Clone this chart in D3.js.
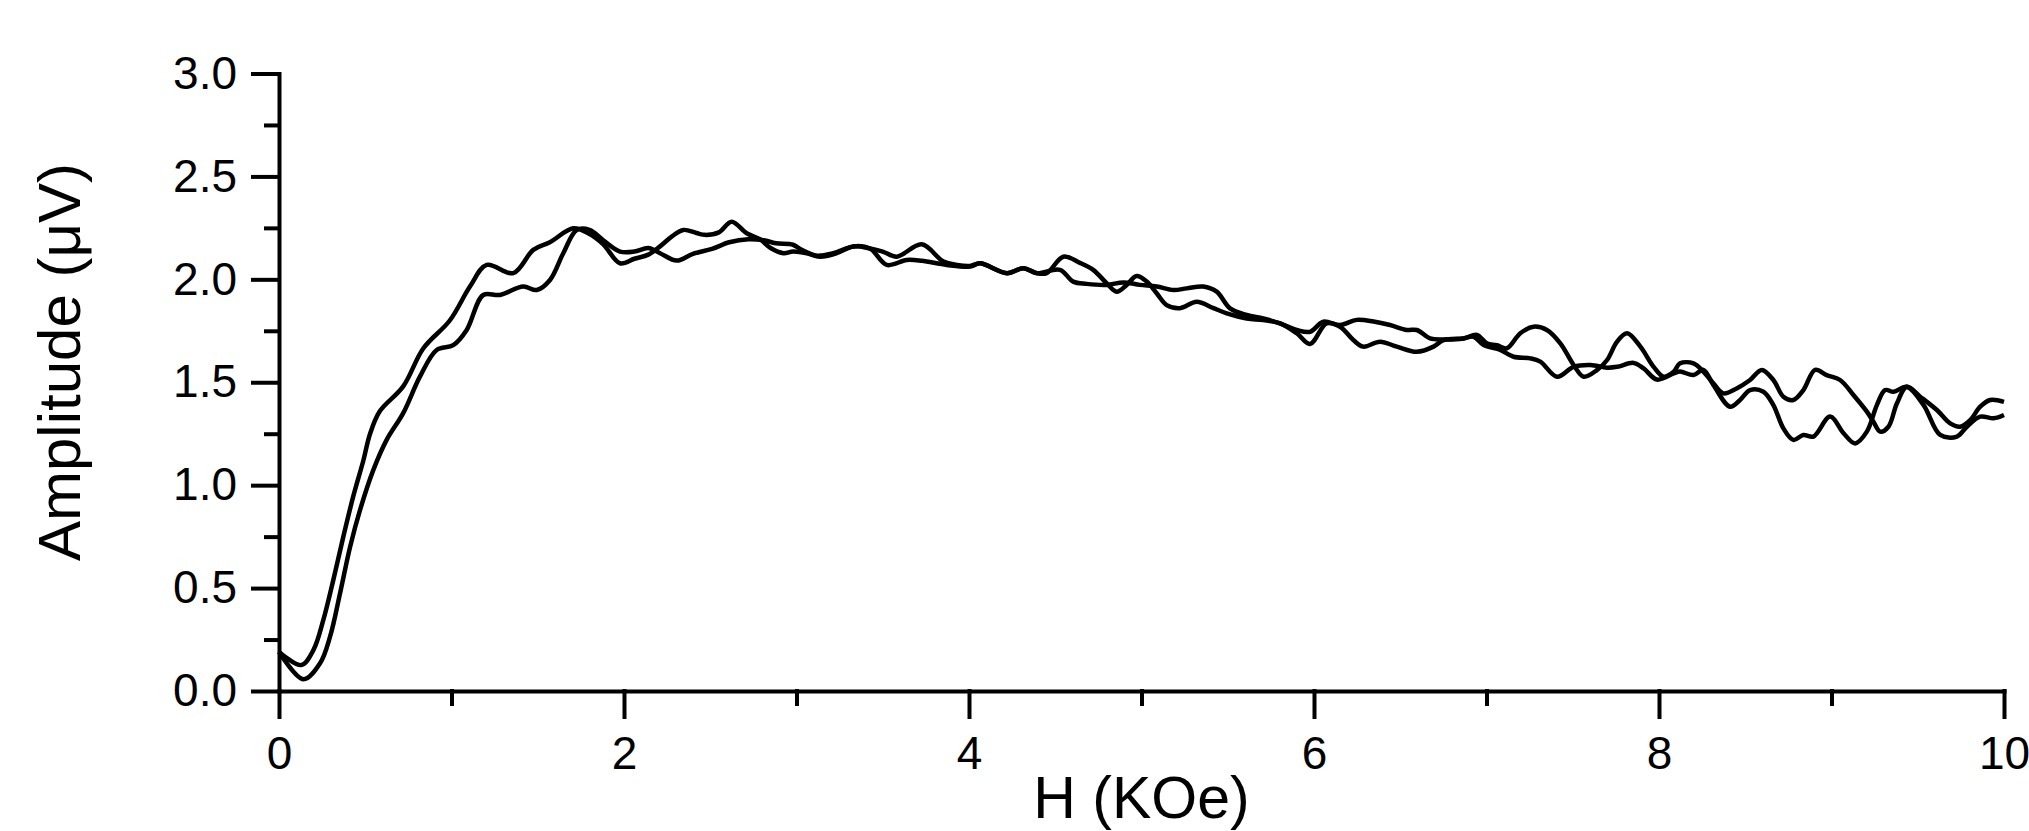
<!DOCTYPE html>
<html>
<head>
<meta charset="utf-8">
<script src="https://cdn.jsdelivr.net/npm/d3@7"></script>
<style>
  html, body { margin: 0; padding: 0; background: #fff; }
  svg { display: block; }
  text { font-family: "Liberation Sans", Arial, sans-serif; fill: #000; }
</style>
</head>
<body>
<svg id="chart" width="2029" height="831"></svg>
<script>
// Field sweep, first trace: H (kOe) and amplitude (µV)
const sweepA_H = [0, 0.13, 0.2, 0.257, 0.315, 0.373, 0.43, 0.489, 0.528, 0.585, 0.72, 0.837, 0.99, 1.107, 1.204, 1.358, 1.474, 1.57, 1.706, 1.80, 1.88,
  1.977, 2.06, 2.141, 2.209, 2.28, 2.344, 2.42, 2.469, 2.55, 2.624, 2.711, 2.788, 2.85, 2.924, 2.981, 3.059, 3.136, 3.233, 3.33, 3.426, 3.523, 3.639, 3.726, 3.871, 4.006,
  4.064, 4.22, 4.315, 4.393, 4.45, 4.547, 4.643, 4.72, 4.798, 4.856, 4.914, 4.972, 5.03, 5.088, 5.146, 5.223, 5.32, 5.417, 5.494, 5.61, 5.706, 5.803, 5.9, 5.977, 6.073,
  6.151, 6.228, 6.286, 6.383, 6.48, 6.596, 6.693, 6.751, 6.867, 6.925, 6.983, 7.08, 7.157, 7.254, 7.312, 7.409, 7.505, 7.602, 7.699, 7.757, 7.853, 7.911, 7.988, 8.085,
  8.122, 8.2, 8.257, 8.315, 8.412, 8.47, 8.528, 8.605, 8.663, 8.721, 8.779, 8.837, 8.895, 8.992, 9.07, 9.137, 9.205, 9.263, 9.311, 9.36, 9.437, 9.534, 9.63, 9.727, 9.785, 9.862, 9.94, 10.0];
const sweepA_V = [0.19, 0.126, 0.2, 0.345, 0.54, 0.75, 0.944, 1.12, 1.25, 1.36, 1.48, 1.665, 1.80, 1.965, 2.07, 2.03, 2.143, 2.18, 2.248, 2.22, 2.17,
  2.078, 2.10, 2.12, 2.16, 2.21, 2.24, 2.225, 2.216, 2.228, 2.28, 2.224, 2.195, 2.152, 2.127, 2.135, 2.127, 2.11, 2.127, 2.16, 2.15, 2.07, 2.094, 2.09, 2.07, 2.062,
  2.078, 2.03, 2.054, 2.03, 2.03, 2.11, 2.08, 2.046, 1.981, 1.94, 1.973, 2.016, 1.989, 1.932, 1.875, 1.86, 1.891, 1.86, 1.835, 1.81, 1.802, 1.786, 1.738, 1.686, 1.786,
  1.77, 1.705, 1.673, 1.697, 1.673, 1.648, 1.673, 1.705, 1.713, 1.721, 1.681, 1.657, 1.624, 1.616, 1.6, 1.527, 1.575, 1.584, 1.571, 1.575, 1.594, 1.567, 1.513, 1.543,
  1.552, 1.535, 1.56, 1.487, 1.381, 1.414, 1.462, 1.454, 1.389, 1.276, 1.22, 1.244, 1.236, 1.333, 1.252, 1.203, 1.26, 1.389, 1.462, 1.454, 1.478, 1.389, 1.244, 1.236, 1.284, 1.333, 1.325, 1.341];

// Field sweep, second trace
const sweepB_H = [0, 0.141, 0.238, 0.296, 0.354, 0.412, 0.47, 0.547, 0.624, 0.72, 0.817, 0.914, 1.01, 1.088, 1.184, 1.28, 1.416, 1.494, 1.571, 1.648, 1.726, 1.80, 1.88,
  1.977, 2.06, 2.141, 2.209, 2.305, 2.40, 2.51, 2.61, 2.72, 2.81, 2.88, 2.98, 3.03, 3.118, 3.214, 3.33, 3.426, 3.50, 3.581, 3.726, 3.852, 3.93, 4.006,
  4.064, 4.22, 4.315, 4.393, 4.527, 4.604, 4.682, 4.798, 4.895, 4.991, 5.088, 5.185, 5.262, 5.358, 5.436, 5.513, 5.61, 5.706, 5.803, 5.9, 5.977, 6.054,
  6.151, 6.248, 6.345, 6.441, 6.538, 6.596, 6.673, 6.751, 6.867, 6.944, 7.002, 7.06, 7.118, 7.196, 7.273, 7.35, 7.428, 7.505, 7.563, 7.64, 7.699, 7.757, 7.815, 7.892, 7.969, 8.027, 8.085,
  8.122, 8.2, 8.257, 8.315, 8.373, 8.45, 8.528, 8.596, 8.663, 8.721, 8.779, 8.837, 8.905, 8.972, 9.05, 9.127, 9.205, 9.243, 9.282, 9.33, 9.379, 9.437, 9.514, 9.611, 9.688, 9.746, 9.804, 9.862, 9.92, 10.0];
const sweepB_V = [0.19, 0.057, 0.135, 0.264, 0.475, 0.70, 0.88, 1.074, 1.22, 1.35, 1.527, 1.657, 1.68, 1.754, 1.924, 1.924, 1.965, 1.948, 1.997, 2.127, 2.24, 2.24, 2.19,
  2.135, 2.135, 2.152, 2.127, 2.091, 2.124, 2.148, 2.18, 2.195, 2.19, 2.175, 2.168, 2.143, 2.115, 2.127, 2.16, 2.15, 2.135, 2.11, 2.17, 2.086, 2.07, 2.065,
  2.078, 2.03, 2.054, 2.03, 2.046, 1.989, 1.978, 1.973, 1.985, 1.973, 1.965, 1.948, 1.956, 1.965, 1.94, 1.859, 1.827, 1.81, 1.786, 1.754, 1.745, 1.794,
  1.778, 1.803, 1.795, 1.778, 1.754, 1.754, 1.713, 1.708, 1.713, 1.73, 1.689, 1.68, 1.665, 1.738, 1.77, 1.754, 1.689, 1.584, 1.527, 1.559, 1.608, 1.697, 1.738, 1.673, 1.575, 1.527, 1.551,
  1.592, 1.592, 1.552, 1.495, 1.446, 1.47, 1.511, 1.56, 1.511, 1.43, 1.414, 1.462, 1.56, 1.535, 1.511, 1.438, 1.357, 1.308, 1.26, 1.284, 1.397, 1.478, 1.43, 1.365, 1.3, 1.284, 1.316, 1.381, 1.414, 1.405];

// Axis ticks
const xMajor = [0, 2, 4, 6, 8, 10];
const xMinor = [1, 3, 5, 7, 9];
const yMajor = [0, 0.5, 1.0, 1.5, 2.0, 2.5, 3.0];
const yMinor = [0.25, 0.75, 1.25, 1.75, 2.25, 2.75];
const xTitle = "H (KOe)";
const yTitle = "Amplitude (\u03BCV)";

const svg = d3.select("#chart");
const x = d3.scaleLinear().domain([0, 10]).range([279, 2004]);
const y = d3.scaleLinear().domain([0, 3]).range([691, 73.5]);

const axisStroke = 4;
const tickFont = 46;

// minor ticks first, then major axes on top
svg.append("g")
  .attr("transform", `translate(0,${y(0)})`)
  .call(d3.axisBottom(x).tickValues(xMinor).tickSize(13).tickSizeOuter(0).tickFormat(""))
  .call(g => g.select(".domain").remove());
svg.append("g")
  .attr("transform", `translate(${x(0)},0)`)
  .call(d3.axisLeft(y).tickValues(yMinor).tickSize(13).tickSizeOuter(0).tickFormat(""))
  .call(g => g.select(".domain").remove());

svg.append("g")
  .attr("transform", `translate(0,${y(0)})`)
  .call(d3.axisBottom(x).tickValues(xMajor).tickSize(26).tickSizeOuter(0).tickPadding(19).tickFormat(d3.format("d")));
svg.append("g")
  .attr("transform", `translate(${x(0)},0)`)
  .call(d3.axisLeft(y).tickValues(yMajor).tickSize(26).tickSizeOuter(0).tickPadding(16).tickFormat(d3.format(".1f")));

svg.selectAll(".domain, .tick line")
  .attr("stroke", "#000")
  .attr("stroke-width", axisStroke)
  .attr("stroke-linecap", "square");
svg.selectAll(".tick text")
  .attr("fill", "#000")
  .style("font-family", '"Liberation Sans", Arial, sans-serif')
  .style("font-size", tickFont + "px");

// traces
const line = d3.line()
  .x(d => x(d[0]))
  .y(d => y(d[1]))
  .curve(d3.curveCatmullRom.alpha(0.5));

[[sweepA_H, sweepA_V], [sweepB_H, sweepB_V]].forEach(([hs, vs]) => {
  svg.append("path")
    .datum(d3.zip(hs, vs))
    .attr("fill", "none")
    .attr("stroke", "#000")
    .attr("stroke-width", 4.5)
    .attr("stroke-linejoin", "round")
    .attr("d", line);
});

// axis titles
svg.append("text")
  .attr("x", (x(0) + x(10)) / 2)
  .attr("y", 818)
  .attr("text-anchor", "middle")
  .style("font-size", "59px")
  .text(xTitle);

svg.append("text")
  .attr("transform", `translate(80,${362}) rotate(-90)`)
  .attr("text-anchor", "middle")
  .style("font-size", "60px")
  .text(yTitle);
</script>
</body>
</html>
